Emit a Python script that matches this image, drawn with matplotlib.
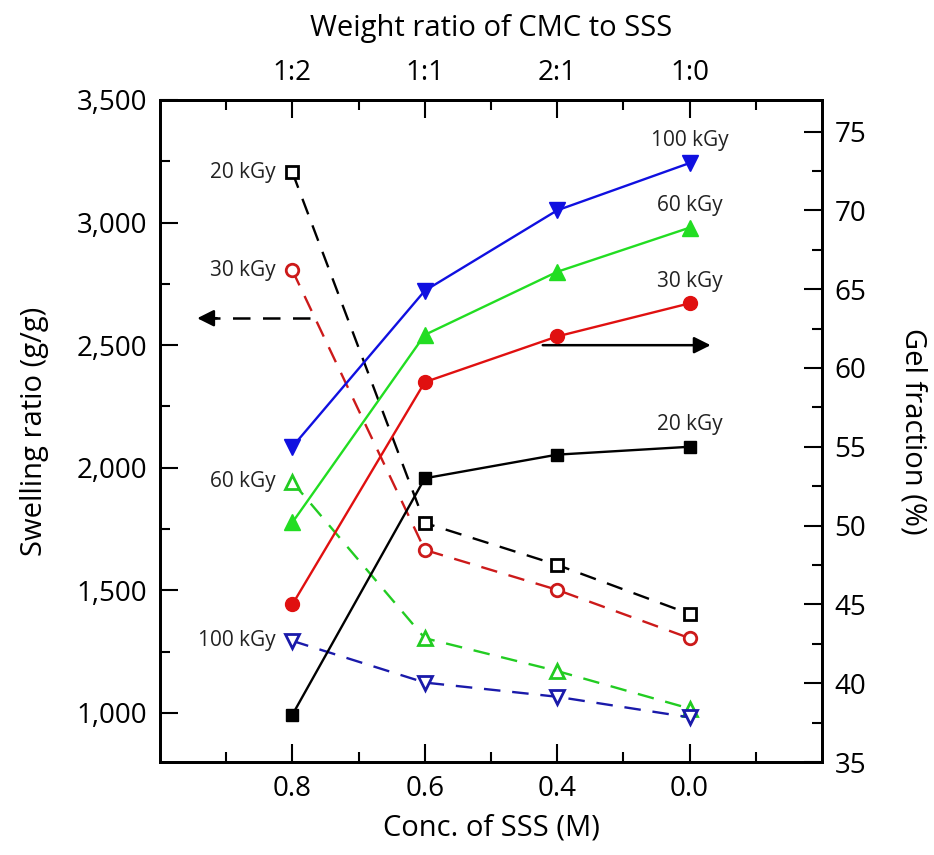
import matplotlib.pyplot as plt
import numpy as np
from matplotlib.ticker import FixedLocator, FuncFormatter

plt.rcParams['font.family'] = ['Open Sans', 'DejaVu Sans']

# categories
conc = ['0.8', '0.6', '0.4', '0.0']
ratio = ['1:2', '1:1', '2:1', '1:0']
doses = ['20 kGy', '30 kGy', '60 kGy', '100 kGy']

# swelling ratio (g/g), left axis, dashed open markers
swell_20 = [3205, 1775, 1604, 1404]
swell_30 = [2805, 1665, 1502, 1305]
swell_60 = [1942, 1305, 1171, 1018]
swell_100 = [1294, 1124, 1066, 982]

# gel fraction (%), right axis, solid filled markers
gel_20 = [38.0, 53.0, 54.5, 55.0]
gel_30 = [45.0, 59.1, 62.0, 64.1]
gel_60 = [50.2, 62.1, 66.1, 68.9]
gel_100 = [55.0, 64.9, 70.0, 73.0]

colors = ['black', '#e01010', '#22dd22', '#1010e0']
dash_colors = ['black', '#cc1a1a', '#22cc22', '#1a1aaa']
markers = ['s', 'o', '^', 'v']
msizes = [9, 10, 11, 11]

x = np.arange(len(conc))

fig = plt.figure(figsize=(9.34, 8.55), dpi=100)
ax = fig.add_axes([160/934, 1 - 762/855, 662/934, 662/855])
ax2 = ax.twinx()

swells = [swell_20, swell_30, swell_60, swell_100]
gels = [gel_20, gel_30, gel_60, gel_100]

for i in range(4):
    ax.plot(x, swells[i], linestyle='--', dashes=(7, 5), lw=1.7,
            color=dash_colors[i], marker=markers[i], ms=msizes[i] - 1,
            mfc='white', mec=dash_colors[i], mew=2, zorder=3)
    ax2.plot(x, gels[i], linestyle='-', lw=1.7, color=colors[i],
             marker=markers[i], ms=msizes[i], mfc=colors[i],
             mec=colors[i], zorder=3)

# dose labels
for i in range(4):
    ax.annotate(doses[i], xy=(x[0], swells[i][0]), xytext=(-12, 0),
                textcoords='offset points', ha='right', va='center',
                fontsize=15, color='#222222')
    ax2.annotate(doses[i], xy=(x[-1], gels[i][-1]), xytext=(0, 16),
                 textcoords='offset points', ha='center', va='center',
                 fontsize=15, color='#222222')

# arrows
ax.plot([0.13, -0.62], [2610, 2610], color='black', lw=1.8,
        linestyle='--', dashes=(7, 5))
ax.annotate('', xy=(-0.74, 2610), xytext=(-0.55, 2610),
            arrowprops=dict(arrowstyle='-|>', color='black', lw=1.8,
                            mutation_scale=25))
ax.annotate('', xy=(3.18, 2500), xytext=(1.87, 2500),
            arrowprops=dict(arrowstyle='-|>', color='black', lw=1.8,
                            mutation_scale=25))

ax.set_xlim(-1, 4)
ax.set_ylim(800, 3500)
ax2.set_ylim(35, 77)

ax.set_xticks(x)
ax.set_xticklabels(conc)
ax.xaxis.set_minor_locator(FixedLocator(np.arange(-0.5, 4, 1.0)))
ax.set_yticks(np.arange(1000, 3501, 500))
ax.yaxis.set_minor_locator(FixedLocator(np.arange(1250, 3500, 500)))
ax.yaxis.set_major_formatter(FuncFormatter(lambda v, p: f'{int(v):,}'))
ax2.set_yticks(np.arange(35, 76, 5))
ax2.yaxis.set_minor_locator(FixedLocator(np.arange(37.5, 76, 5)))

top = ax.secondary_xaxis('top')
top.set_xticks(x)
top.set_xticklabels(ratio)
top.xaxis.set_minor_locator(FixedLocator(np.arange(-0.5, 4, 1.0)))
top.set_xlabel('Weight ratio of CMC to SSS', fontsize=21, labelpad=17)

for a in (ax, ax2, top):
    a.tick_params(which='major', direction='in', length=13, width=1.5,
                  labelsize=20, pad=9)
    a.tick_params(which='minor', direction='in', length=7, width=1.5)
for sp in ax.spines.values():
    sp.set_linewidth(2)
for sp in ax2.spines.values():
    sp.set_linewidth(2)
top.spines['top'].set_linewidth(2)

ax.set_xlabel('Conc. of SSS (M)', fontsize=21, labelpad=8)
ax.set_ylabel('Swelling ratio (g/g)', fontsize=21, labelpad=20)
ax2.set_ylabel('Gel fraction (%)', fontsize=21, rotation=270, labelpad=44)

fig.savefig('out.png', dpi=100)
